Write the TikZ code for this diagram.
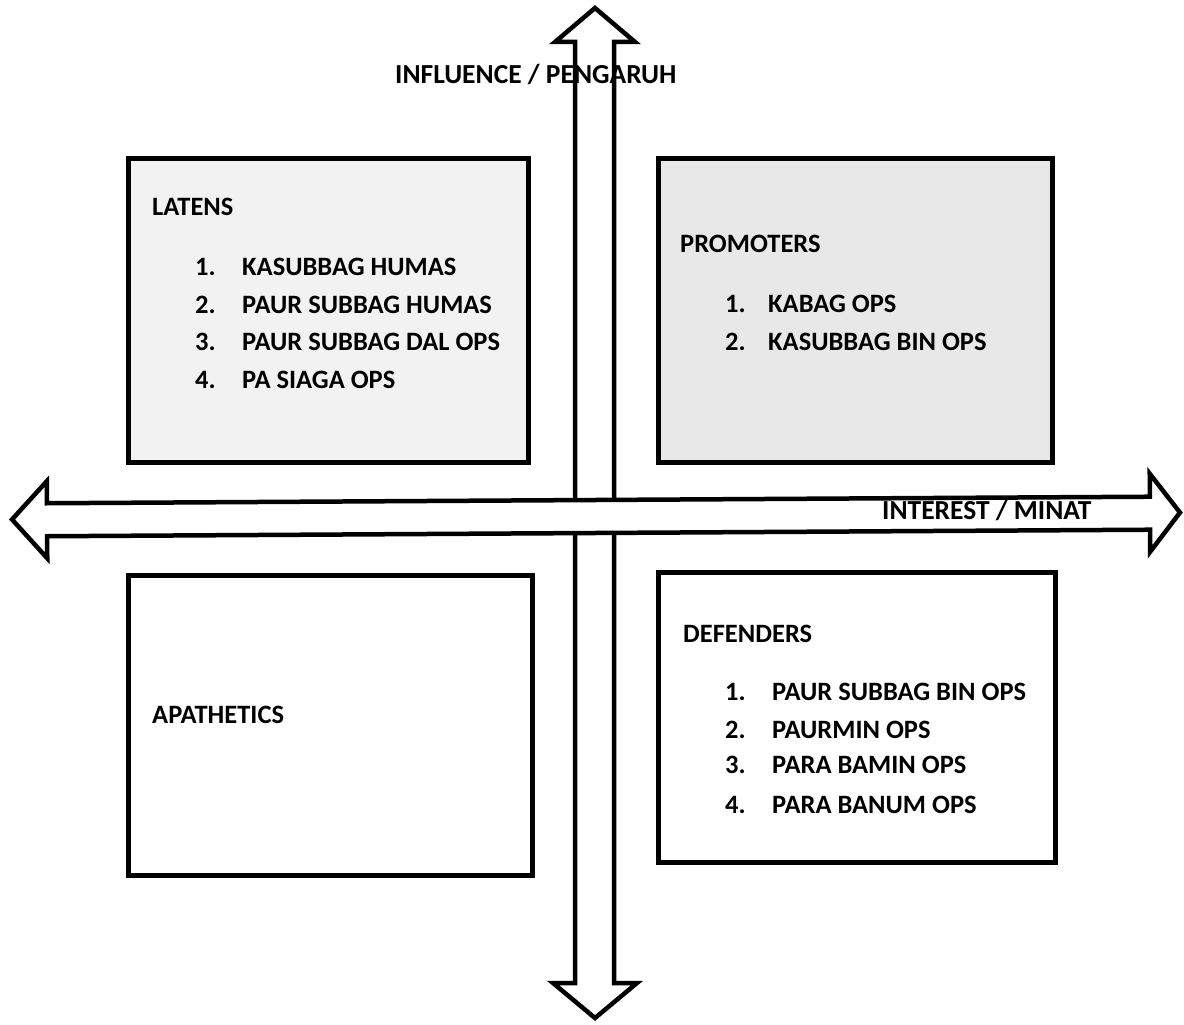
\documentclass[tikz,border=0pt]{standalone}
\usepackage{fontspec}
\setmainfont{Carlito}
\begin{document}
\begin{tikzpicture}[x=1pt,y=-1pt,
  quad/.style={draw=black,line width=5pt},
  arr/.style={draw=black,fill=white,line width=4.5pt,line join=miter},
  lbl/.style={anchor=base west,inner sep=0pt,font=\fontsize{26.5}{26.5}\selectfont\bfseries},
  ttl/.style={anchor=base west,inner sep=0pt,font=\fontsize{27.5}{27.5}\selectfont\bfseries}]
\useasboundingbox (0,0) rectangle (1184,1025);
% quadrant boxes
\path[quad,fill=black!5] (128,158) rectangle (528,462) coordinate (tlbox);
\path[quad,fill=black!9] (658,158) rectangle (1052,462) coordinate (trbox);
\path[quad,fill=white] (128,575) rectangle (532,875) coordinate (blbox);
\path[quad,fill=white] (658,572) rectangle (1055,862) coordinate (brbox);
% vertical arrow
\path[arr] (595,8) -- (635,42) -- (614,42) -- (614,983) -- (637,983) -- (595,1018)
  -- (553,983) -- (575,983) -- (575,42) -- (555,42) -- cycle;
% title above (drawn over the shaft)
\node[ttl] (infl) at (395,84) {INFLUENCE / PENGARUH};
% horizontal arrow
\begin{scope}[rotate around={0.34:(595,516)}]
\path[arr] (12,516) -- (47,478) -- (47,500) -- (1150,500) -- (1150,477) -- (1180,516)
  -- (1150,555) -- (1150,533) -- (47,533) -- (47,555) -- cycle;
\node[ttl] (inter) at (882,521) {INTEREST / MINAT};
\end{scope}
% LATENS
\node[lbl] (lat) at (152,215) {LATENS};
\node[lbl] (l1n) at (195,275) {1.};
\node[lbl] (l1) at (242,275) {KASUBBAG HUMAS};
\node[lbl] (l2n) at (195,313) {2.};
\node[lbl] (l2) at (242,313) {PAUR SUBBAG HUMAS};
\node[lbl] (l3n) at (195,350) {3.};
\node[lbl] (l3) at (242,350) {PAUR SUBBAG DAL OPS};
\node[lbl] (l4n) at (195,388) {4.};
\node[lbl] (l4) at (242,388) {PA SIAGA OPS};
% PROMOTERS
\node[lbl] (pro) at (680,252) {PROMOTERS};
\node[lbl] (p1n) at (725,312) {1.};
\node[lbl] (p1) at (768,312) {KABAG OPS};
\node[lbl] (p2n) at (725,350) {2.};
\node[lbl] (p2) at (768,350) {KASUBBAG BIN OPS};
% APATHETICS
\node[lbl] (apa) at (152,723) {APATHETICS};
% DEFENDERS
\node[lbl] (def) at (683,642) {DEFENDERS};
\node[lbl] (d1n) at (725,700) {1.};
\node[lbl] (d1) at (772,700) {PAUR SUBBAG BIN OPS};
\node[lbl] (d2n) at (725,738) {2.};
\node[lbl] (d2) at (772,738) {PAURMIN OPS};
\node[lbl] (d3n) at (725,773) {3.};
\node[lbl] (d3) at (772,773) {PARA BAMIN OPS};
\node[lbl] (d4n) at (725,813) {4.};
\node[lbl] (d4) at (772,813) {PARA BANUM OPS};
\end{tikzpicture}
\end{document}
